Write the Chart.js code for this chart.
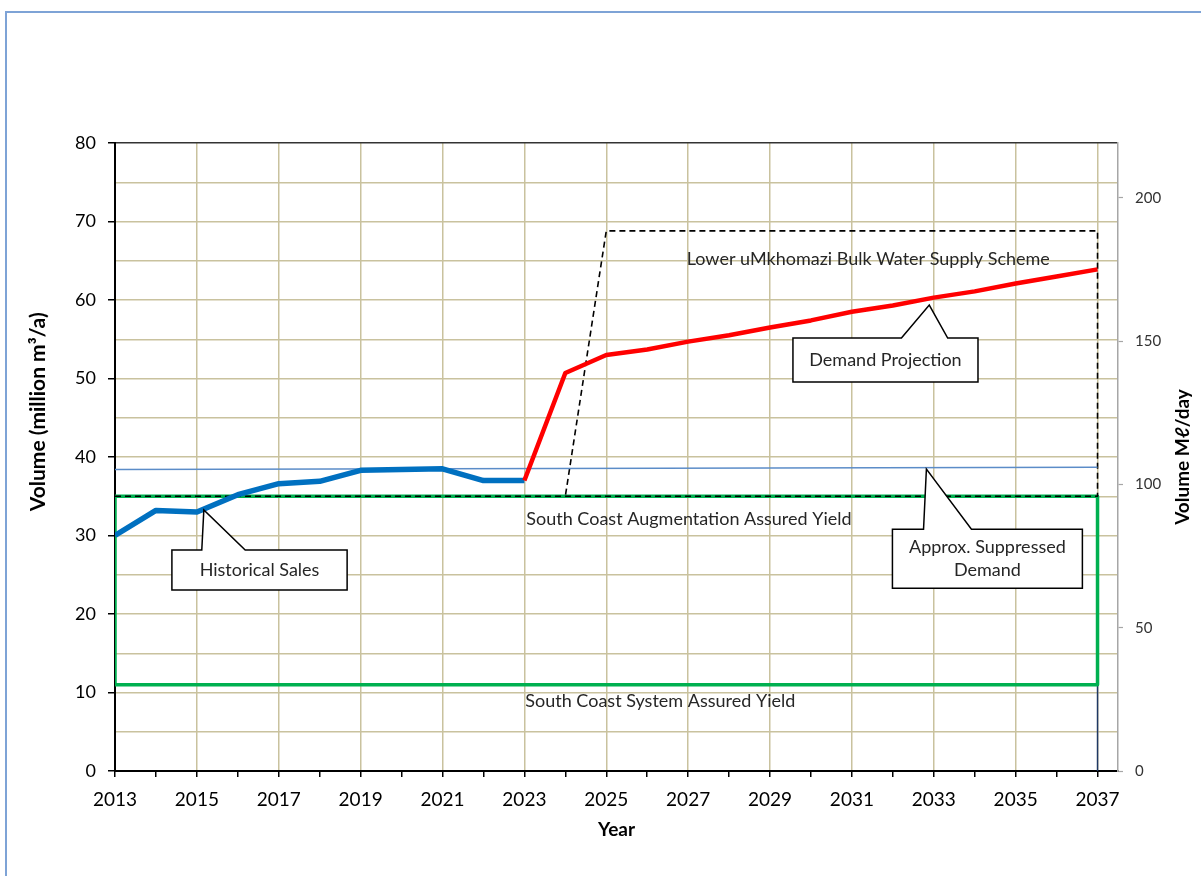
<!DOCTYPE html>
<html>
<head>
<meta charset="utf-8">
<script src="https://cdn.jsdelivr.net/npm/chart.js@4.4.1/dist/chart.umd.min.js"></script>
<style>
  html, body { margin: 0; padding: 0; background: #fff; }
  canvas { display: block; }
</style>
</head>
<body>
<canvas id="chart" width="1201" height="876"></canvas>
<script>
// --- data ---
const histYears = [2013, 2014, 2015, 2016, 2017, 2018, 2019, 2020, 2021, 2022, 2023];
const histSales = [30.0, 33.2, 33.0, 35.2, 36.6, 36.9, 38.3, 38.4, 38.5, 37.0, 37.0];

const projYears = [2023, 2024, 2025, 2026, 2027, 2028, 2029, 2030, 2031, 2032, 2033, 2034, 2035, 2036, 2037];
const demandProj = [37.0, 50.7, 53.0, 53.7, 54.7, 55.5, 56.5, 57.4, 58.5, 59.3, 60.3, 61.1, 62.1, 63.0, 63.9];

const suppressedYears = [2013, 2037];
const suppressedDemand = [38.4, 38.7];

// outline of the Lower uMkhomazi scheme (dashed)
const schemeYears = [2013, 2037, 2037, 2025, 2024];
const schemeVolume = [35, 35, 68.8, 68.8, 35];

// assured yield box: system yield 11, augmentation 35
const yieldYears = [2013, 2013, 2037, 2037, 2013];
const yieldVolume = [11, 35, 35, 11, 11];

const edgeYears = [2037, 2037];
const edgeVolume = [0, 11];

const yearTicks = [];
for (let y = 2013; y <= 2037; y++) yearTicks.push(y);
const volumeTicks = [0, 5, 10, 15, 20, 25, 30, 35, 40, 45, 50, 55, 60, 65, 70, 75, 80];
const dailyTicks = [0, 50, 100, 150, 200];

const toPoints = (xs, ys) => xs.map((x, i) => ({ x: x, y: ys[i] }));

// annotations, in data units
const textLabels = [
  { text: 'Lower uMkhomazi Bulk Water Supply Scheme', x: 2031.40, y: 65.2 },
  { text: 'South Coast Augmentation Assured Yield', x: 2027.02, y: 32.1 },
  { text: 'South Coast System Assured Yield', x: 2026.32, y: 8.9 }
];
const callouts = [
  { lines: ['Historical Sales'], box: [2014.39, 28.15, 2018.67, 23.06], base: [2015.12, 2016.18], tip: [2015.17, 33.25] },
  { lines: ['Demand Projection'], box: [2029.56, 55.16, 2034.08, 49.55], base: [2032.21, 2033.34], tip: [2032.89, 59.36] },
  { lines: ['Approx. Suppressed', 'Demand'], box: [2031.99, 30.79, 2036.63, 23.27], base: [2032.75, 2033.92], tip: [2032.82, 38.47] }
];

const FONT = "Lato, 'Open Sans', sans-serif";
const GRID = '#C9C29E';

const pagePlugin = {
  id: 'page',
  beforeDraw(chart) {
    const ctx = chart.ctx;
    ctx.save();
    ctx.fillStyle = '#fff';
    ctx.fillRect(0, 0, chart.width, chart.height);
    ctx.strokeStyle = '#7EA3D6';
    ctx.lineWidth = 2;
    ctx.strokeRect(6, 12, chart.width + 20, chart.height + 20);
    ctx.restore();
  },
  afterDraw(chart) {
    const ctx = chart.ctx;
    const area = chart.chartArea;
    ctx.save();
    ctx.fillStyle = '#000';
    ctx.textAlign = 'center';
    ctx.textBaseline = 'middle';
    // left axis title
    ctx.font = 'bold 21px ' + FONT;
    ctx.save();
    ctx.translate(38, area.top + (area.bottom - area.top) * 0.428);
    ctx.rotate(-Math.PI / 2);
    ctx.fillText('Volume (million m³/a)', 0, 0);
    ctx.restore();
    // right axis title
    ctx.font = 'bold 19px ' + FONT;
    ctx.save();
    ctx.translate(chart.width - 18, (area.top + area.bottom) / 2);
    ctx.rotate(-Math.PI / 2);
    ctx.fillText('Volume Mℓ/day', 0, 0);
    ctx.restore();
    ctx.restore();
  },
  afterDatasetsDraw(chart) {
    const ctx = chart.ctx;
    const xs = chart.scales.x, ys = chart.scales.y;
    ctx.save();
    ctx.font = '18px ' + FONT;
    ctx.fillStyle = '#262626';
    ctx.textAlign = 'center';
    ctx.textBaseline = 'middle';
    textLabels.forEach(l => {
      ctx.fillText(l.text, xs.getPixelForValue(l.x), ys.getPixelForValue(l.y));
    });
    callouts.forEach(c => {
      const x1 = xs.getPixelForValue(c.box[0]), y1 = ys.getPixelForValue(c.box[1]);
      const x2 = xs.getPixelForValue(c.box[2]), y2 = ys.getPixelForValue(c.box[3]);
      const b1 = xs.getPixelForValue(c.base[0]), b2 = xs.getPixelForValue(c.base[1]);
      const tx = xs.getPixelForValue(c.tip[0]), ty = ys.getPixelForValue(c.tip[1]);
      ctx.beginPath();
      ctx.moveTo(x1, y1);
      ctx.lineTo(b1, y1);
      ctx.lineTo(tx, ty);
      ctx.lineTo(b2, y1);
      ctx.lineTo(x2, y1);
      ctx.lineTo(x2, y2);
      ctx.lineTo(x1, y2);
      ctx.closePath();
      ctx.fillStyle = '#fff';
      ctx.fill();
      ctx.strokeStyle = '#000';
      ctx.lineWidth = 1.5;
      ctx.stroke();
      ctx.fillStyle = '#262626';
      const lh = 23.5;
      const cy = (y1 + y2) / 2 - (c.lines.length - 1) * lh / 2;
      c.lines.forEach((t, i) => ctx.fillText(t, (x1 + x2) / 2, cy + i * lh));
    });
    ctx.restore();
  }
};

new Chart(document.getElementById('chart'), {
  type: 'line',
  data: {
    datasets: [
      {
        label: 'Demand Projection',
        data: toPoints(projYears, demandProj),
        borderColor: '#FF0000',
        borderWidth: 4.5
      },
      {
        label: 'Historical Sales',
        data: toPoints(histYears, histSales),
        borderColor: '#0070C0',
        borderWidth: 5.5
      },
      {
        label: 'Approx. Suppressed Demand',
        data: toPoints(suppressedYears, suppressedDemand),
        borderColor: '#5B8CC8',
        borderWidth: 1.5
      },
      {
        label: 'Lower uMkhomazi Bulk Water Supply Scheme',
        data: toPoints(schemeYears, schemeVolume),
        borderColor: '#000',
        borderWidth: 1.6,
        borderDash: [6, 4]
      },
      {
        label: 'Assured Yield',
        data: toPoints(yieldYears, yieldVolume),
        borderColor: '#00B050',
        borderWidth: 3.5
      },
      {
        label: 'edge',
        data: toPoints(edgeYears, edgeVolume),
        borderColor: '#1F3864',
        borderWidth: 1.5
      }
    ]
  },
  options: {
    responsive: false,
    animation: false,
    events: [],
    layout: { padding: { top: 143, left: 0, right: 0, bottom: 0 } },
    elements: {
      point: { radius: 0 },
      line: { tension: 0, fill: false, borderJoinStyle: 'round', borderCapStyle: 'butt' }
    },
    plugins: {
      legend: { display: false },
      tooltip: { enabled: false }
    },
    scales: {
      x: {
        type: 'linear',
        min: 2013,
        max: 2037.5,
        afterBuildTicks: s => { s.ticks = yearTicks.map(v => ({ value: v })); },
        afterFit: s => { s.height = 105; },
        grid: {
          color: c => (c.tick && (c.tick.value - 2013) % 2 === 0) ? GRID : 'rgba(0,0,0,0)',
          tickColor: '#000',
          lineWidth: 1.5,
          tickLength: 6,
          tickWidth: 1.5
        },
        border: { color: '#000', width: 2 },
        ticks: {
          color: '#000',
          padding: 11,
          maxRotation: 0,
          autoSkip: false,
          font: { family: FONT, size: 19 },
          callback: v => ((v - 2013) % 2 === 0 ? String(v) : '')
        },
        title: {
          display: true,
          text: 'Year',
          color: '#000',
          font: { family: FONT, size: 19, weight: 'bold' },
          padding: { top: 0, bottom: 35 }
        }
      },
      y: {
        position: 'left',
        min: 0,
        max: 80,
        afterBuildTicks: s => { s.ticks = volumeTicks.map(v => ({ value: v })); },
        afterFit: s => { s.width = 115; },
        grid: {
          color: c => (c.tick && c.tick.value === 80) ? '#333' : GRID,
          tickColor: c => (c.tick && c.tick.value % 10 === 0) ? '#000' : 'rgba(0,0,0,0)',
          lineWidth: 1.5,
          tickLength: 7,
          tickWidth: 1.5
        },
        border: { color: '#000', width: 2 },
        ticks: {
          color: '#000',
          padding: 12,
          autoSkip: false,
          font: { family: FONT, size: 18 },
          callback: v => (v % 10 === 0 ? String(v) : '')
        }
      },
      y2: {
        position: 'right',
        min: 0,
        max: 80000 / 365,
        afterBuildTicks: s => { s.ticks = dailyTicks.map(v => ({ value: v })); },
        afterFit: s => { s.width = 83; },
        grid: {
          drawOnChartArea: false,
          color: '#A6A6A6',
          tickLength: 5,
          tickWidth: 1.2
        },
        border: { color: '#A6A6A6', width: 1.5 },
        ticks: {
          color: '#333',
          padding: 12,
          font: { family: FONT, size: 15 }
        }
      }
    }
  },
  plugins: [pagePlugin]
});
</script>
</body>
</html>
